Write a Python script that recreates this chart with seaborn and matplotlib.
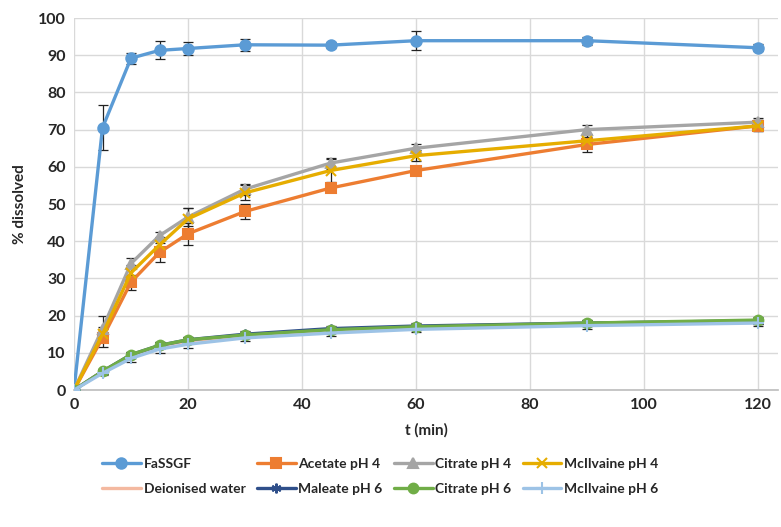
import matplotlib
matplotlib.use("Agg")
import matplotlib.pyplot as plt
import seaborn as sns
import numpy as np
import pandas as pd

t = [0, 5, 10, 15, 20, 30, 45, 60, 90, 120]

series_names = ["FaSSGF", "Acetate pH 4", "Citrate pH 4", "McIlvaine pH 4",
                "Deionised water", "Maleate pH 6", "Citrate pH 6", "McIlvaine pH 6"]

fassgf = [0, 70.5, 89.2, 91.3, 91.8, 92.8, 92.7, 93.9, 93.9, 92.0]
fassgf_err = [0, 6.0, 1.5, 2.4, 1.7, 1.6, 0.8, 2.6, 1.1, 1.0]
acetate4 = [0, 14.0, 29.0, 37.0, 42.0, 48.0, 54.3, 59.0, 66.0, 71.0]
acetate4_err = [0, 2.5, 2.0, 2.5, 3.0, 2.0, 0.5, 0.8, 2.0, 1.5]
citrate4 = [0, 16.5, 34.0, 41.5, 46.5, 54.0, 61.0, 65.0, 70.0, 72.0]
citrate4_err = [0, 3.5, 1.5, 1.0, 2.5, 1.5, 1.5, 1.2, 1.3, 1.0]
mcilvaine4 = [0, 15.0, 31.5, 39.0, 46.0, 53.0, 59.0, 63.0, 67.0, 71.0]
mcilvaine4_err = [0, 2.0, 2.0, 2.0, 3.0, 2.0, 3.0, 1.5, 1.5, 1.5]
water = [0, 5.0, 9.3, 11.8, 13.2, 14.6, 16.0, 16.8, 17.8, 18.3]
water_err = [0, 0.5, 0.5, 0.6, 0.6, 0.6, 0.6, 0.6, 0.6, 0.6]
maleate6 = [0, 5.0, 9.5, 12.0, 13.5, 15.0, 16.5, 17.2, 18.0, 18.6]
maleate6_err = [0, 0.6, 0.8, 0.8, 0.8, 0.8, 0.8, 0.8, 0.8, 0.8]
citrate6 = [0, 5.0, 9.5, 12.0, 13.5, 14.8, 16.2, 17.0, 18.0, 18.8]
citrate6_err = [0, 0.6, 0.8, 0.8, 0.8, 0.8, 0.8, 0.8, 0.8, 0.8]
mcilvaine6 = [0, 4.5, 8.5, 11.0, 12.3, 14.0, 15.3, 16.3, 17.3, 18.0]
mcilvaine6_err = [0, 0.6, 1.0, 1.0, 1.0, 0.8, 0.8, 0.8, 0.8, 0.8]

values = [fassgf, acetate4, citrate4, mcilvaine4, water, maleate6, citrate6, mcilvaine6]
errors = [fassgf_err, acetate4_err, citrate4_err, mcilvaine4_err, water_err,
          maleate6_err, citrate6_err, mcilvaine6_err]
colors = ["#5B9BD5", "#ED7D31", "#A5A5A5", "#E6AD00",
          "#F4B9A0", "#2F4F8A", "#70AD47", "#9DC3E6"]
markers = ["o", "s", "^", "x", "", (6, 2, 0), "o", "+"]
msizes = [7.5, 6.5, 7, 7, 0, 7, 7, 8]

sns.set_theme(style="white")
plt.rcParams['font.family'] = ['Lato', 'DejaVu Sans']

fig = plt.figure(figsize=(7.81, 5.27), dpi=100)
ax = fig.add_axes([74/781, 1-390/527, (778-74)/781, (390-18)/527])

order = [4, 7, 5, 6, 3, 1, 2, 0]
for i in order:
    df = pd.DataFrame({"t": t, "v": values[i]})
    ax.errorbar(t, values[i], yerr=errors[i], fmt="none", ecolor="#222222",
                elinewidth=0.9, capsize=3.5, capthick=0.9, zorder=2 + i * 0.1)
    sns.lineplot(data=df, x="t", y="v", ax=ax, color=colors[i], linewidth=2.4,
                 marker=markers[i] if markers[i] != "" else None,
                 markersize=msizes[i], markeredgecolor=colors[i],
                 markeredgewidth=1.5, label=series_names[i], zorder=3 + i * 0.1)

ax.set_xlim(0, 123.5)
ax.set_ylim(0, 100)
ax.set_xticks([0, 20, 40, 60, 80, 100, 120])
ax.set_yticks(range(0, 101, 10))
ax.grid(True, color="#D9D9D9", linewidth=1.0)
ax.set_axisbelow(True)
for s in ["top", "right", "left"]:
    ax.spines[s].set_visible(False)
ax.spines["bottom"].set_color("#BFBFBF")
ax.tick_params(axis="both", length=0, labelsize=11.5, pad=6)
for lab in ax.get_xticklabels() + ax.get_yticklabels():
    lab.set_fontweight("bold")
ax.set_xlabel("t (min)", fontsize=11, fontweight="bold", labelpad=8)
ax.set_ylabel("% dissolved", fontsize=11, fontweight="bold", labelpad=8)

h, l = ax.get_legend_handles_labels()
hm = dict(zip(l, h))
# matplotlib fills legend column by column; reorder so rows read left to right
leg_order = [0, 4, 1, 5, 2, 6, 3, 7]
hs = [hm[series_names[k]] for k in leg_order]
ls = [series_names[k] for k in leg_order]
ax.legend(hs, ls, loc="upper center", bbox_to_anchor=(0.435, -0.148),
          ncol=4, frameon=False, handlelength=2.8,
          columnspacing=0.8, handletextpad=0.2, labelspacing=0.95,
          prop={"weight": "bold", "size": 10})

fig.savefig("out.png", dpi=100)
